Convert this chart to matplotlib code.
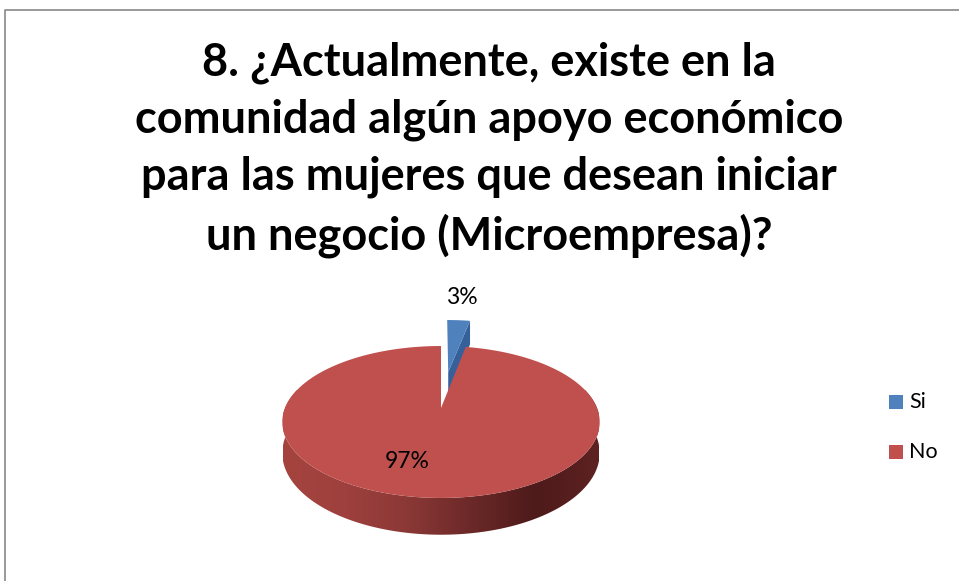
import numpy as np
import matplotlib.pyplot as plt
from matplotlib.colors import LinearSegmentedColormap
from matplotlib.patches import Polygon, Rectangle

labels = ["Si", "No"]
values = [3, 97]
colors = ["#4f81bd", "#c0504d"]
side_colors = ["#36609a", None]
explode = [0.54, 0.0]
title = ("8. ¿Actualmente, existe en la\ncomunidad algún apoyo económico\n"
         "para las mujeres que desean iniciar\nun negocio (Microempresa)?")

plt.rcParams['font.family'] = ['Lato', 'DejaVu Sans']

fig = plt.figure(figsize=(9.59, 5.81), dpi=100)
ax = fig.add_axes([0, 0, 1, 1])

# frame (left and top edges are visible)
ax.plot([5, 5, 959], [581, 10, 10], color="#888888", lw=1.2)

# pseudo-3d pie geometry (pixel units)
cx, cy = 441, 408
a, b = 156, 73.4
k = 0.184
h = 30


def proj(x, y, z=0.0):
    f = 1.0 / (1.0 + k * y)
    return cx + a * x * f, cy - b * y * f + h * z * f


fracs = np.array(values, dtype=float) / sum(values)
start = 90.0
angles = []
for fr in fracs:
    # clockwise from 12 o'clock
    angles.append((start - fr * 360, start))
    start -= fr * 360

side_cmap = LinearSegmentedColormap.from_list(
    "side", ["#a5443f", "#9e403d", "#8a3836", "#6b2828", "#4e1a1a", "#5e2222"])

for i, (t0, t1) in enumerate(angles):
    m = np.radians((t0 + t1) / 2)
    ox, oy = explode[i] * np.cos(m), explode[i] * np.sin(m)
    ts = np.radians(np.linspace(t0, t1, 200))
    top = [proj(ox + np.cos(t), oy + np.sin(t)) for t in ts]
    ctr = proj(ox, oy)
    if labels[i] == "Si":
        # cut face on the clockwise side
        e = (ox + np.cos(ts[0]), oy + np.sin(ts[0]))
        face = [proj(ox, oy), proj(*e), proj(*e, 1), proj(ox, oy, 1)]
        ax.add_patch(Polygon(face, closed=True, fc=side_colors[i], ec="none", zorder=2))
        ax.add_patch(Polygon([ctr] + top, closed=True, fc=colors[i], ec="none", zorder=3))
    else:
        # front side wall, filled with a left-to-right gradient
        tw = np.radians(np.linspace(165, 375, 300))
        upper = [proj(np.cos(t), np.sin(t)) for t in tw]
        lower = [proj(np.cos(t), np.sin(t), 1) for t in tw[::-1]]
        wall = Polygon(upper + lower, closed=True, fc="none", ec="none")
        ax.add_patch(wall)
        grad = np.linspace(0, 1, 256)[None, :]
        im = ax.imshow(grad, cmap=side_cmap, aspect="auto", zorder=4,
                       extent=(cx - a - 2, cx + a + 2, cy + 2 * b, cy - 2 * b),
                       interpolation="bilinear")
        im.set_clip_path(wall)
        ax.add_patch(Polygon([ctr] + top, closed=True, fc=colors[i], ec="none", zorder=5))

ax.set_xlim(0, 959)
ax.set_ylim(581, 0)
ax.axis("off")

ax.text(462, 298, f"{values[0]}%", ha="center", va="center", fontsize=16.5, zorder=6)
ax.text(407, 461, f"{values[1]}%", ha="center", va="center", fontsize=16.5, zorder=6)

ax.text(489, 250, title, ha="center", va="baseline", fontsize=32.5, fontweight="bold",
        linespacing=1.43)

# legend
for i, lab in enumerate(labels):
    y = 402 + 50 * i
    ax.add_patch(Rectangle((889, y - 7), 14, 14, fc=colors[i], ec="none"))
    ax.text(909, y, lab, ha="left", va="center", fontsize=15.5)

fig.savefig("out.png", dpi=100)
